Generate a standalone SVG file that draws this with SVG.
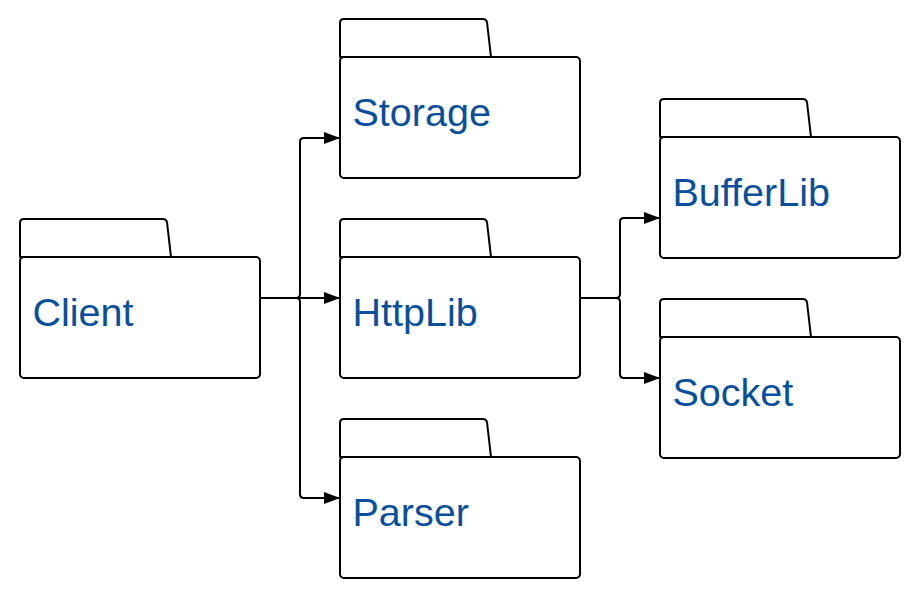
<svg xmlns="http://www.w3.org/2000/svg" width="919" height="597" viewBox="0 0 919 597">
<style>
.f{fill:#fff;stroke:#000;stroke-width:2;stroke-linejoin:round}
.t{font-family:"Liberation Sans",Arial,sans-serif;font-size:39.5px;fill:#0a4f9c}
.c{fill:none;stroke:#000;stroke-width:2}
</style>
<defs>
<marker id="a" viewBox="0 0 16 12" refX="16" refY="6" markerWidth="16" markerHeight="12" markerUnits="userSpaceOnUse" orient="auto">
<path d="M0,0 L16,6 L0,12 Z" fill="#000"/>
</marker>
<g id="folder">
<path class="f" d="M0,38 V4 Q0,0 4,0 H143 Q146,0 147,3 L151,38 Z"/>
<rect class="f" x="0" y="38" width="240" height="121" rx="4"/>
</g>
</defs>
<rect width="919" height="597" fill="#fff"/>
<g id="connectors">
<path class="c" d="M260,298 H340" marker-end="url(#a)"/>
<path class="c" d="M260,298 H296 Q300,298 300,294 V142 Q300,138 304,138 H340" marker-end="url(#a)"/>
<path class="c" d="M260,298 H296 Q300,298 300,302 V494 Q300,498 304,498 H340" marker-end="url(#a)"/>
<path class="c" d="M580,298 H616 Q620,298 620,294 V222 Q620,218 624,218 H660" marker-end="url(#a)"/>
<path class="c" d="M580,298 H616 Q620,298 620,302 V374 Q620,378 624,378 H660" marker-end="url(#a)"/>
</g>
<g id="client" transform="translate(20,219)"><use href="#folder"/><text class="t" x="12.5" y="107">Client</text></g>
<g id="storage" transform="translate(340,19)"><use href="#folder"/><text class="t" x="12.5" y="107">Storage</text></g>
<g id="httplib" transform="translate(340,219)"><use href="#folder"/><text class="t" x="12.5" y="107">HttpLib</text></g>
<g id="parser" transform="translate(340,419)"><use href="#folder"/><text class="t" x="12.5" y="107">Parser</text></g>
<g id="bufferlib" transform="translate(660,99)"><use href="#folder"/><text class="t" x="12.5" y="107">BufferLib</text></g>
<g id="socket" transform="translate(660,299)"><use href="#folder"/><text class="t" x="12.5" y="107">Socket</text></g>
</svg>
